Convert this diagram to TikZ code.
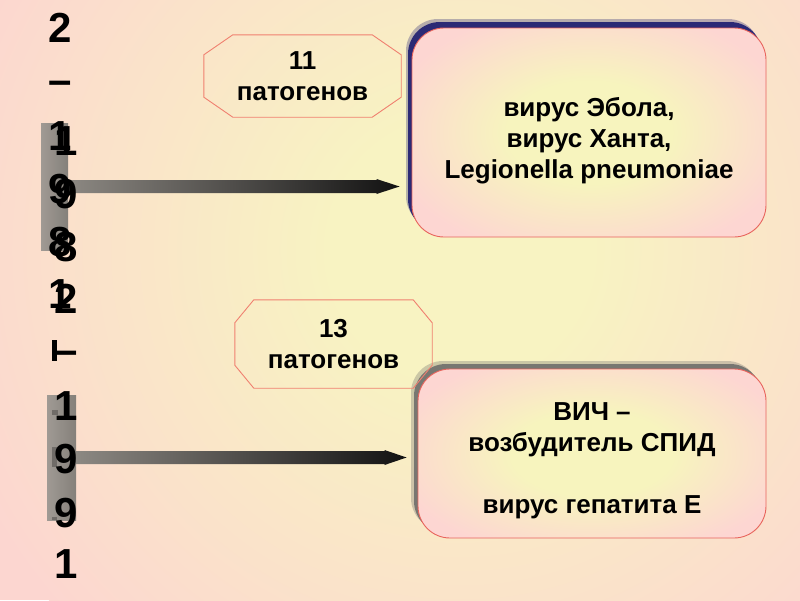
\documentclass[tikz,border=0pt]{standalone}
\usepackage{fontspec}
\setmainfont{Liberation Sans}
\usetikzlibrary{calc,shadows}
\definecolor{bgin}{RGB}{248,243,194}
\definecolor{bgout}{RGB}{252,214,208}
\definecolor{boxin}{RGB}{247,244,190}
\definecolor{boxout}{RGB}{253,214,210}
\definecolor{edgec}{RGB}{232,100,92}
\definecolor{octc}{RGB}{240,128,112}
\definecolor{navyc}{RGB}{28,28,112}
\definecolor{greysh}{RGB}{100,100,100}
\definecolor{barl}{RGB}{160,154,148}
\definecolor{barr}{RGB}{132,128,122}
\definecolor{patch}{RGB}{112,108,104}
\definecolor{arrl}{RGB}{140,136,130}
\definecolor{arrr}{RGB}{18,18,18}
\pgfdeclareradialshading{bgsh}{\pgfpoint{0bp}{0bp}}{color(0bp)=(bgin); color(6bp)=(bgin); color(25bp)=(bgout); color(50bp)=(bgout)}
\pgfdeclareradialshading{boxsh}{\pgfpoint{0bp}{0bp}}{color(0bp)=(boxin); color(10bp)=(boxin); color(25bp)=(boxout); color(50bp)=(boxout)}
\begin{document}
\begin{tikzpicture}[x=1pt,y=-1pt,
  digit/.style={inner sep=0pt, anchor=base, font=\fontsize{42}{42}\selectfont\bfseries},
  lbl/.style={inner sep=0pt, align=center, font=\fontsize{26}{31}\selectfont\bfseries},
  octbox/.style={lbl, minimum width=197pt},
  octline/.style={draw=octc, line width=0.9pt},
  boxbase/.style 2 args={rounded corners=32pt, draw=edgec, line width=0.9pt, fill=boxout, inner sep=0pt,
    path picture={\shade[shading=boxsh] (path picture bounding box.center) ellipse (#1 and #2);}},
  bar/.style={inner sep=0pt, left color=barl, right color=barr},
  arrowsh/.style={left color=arrl, right color=arrr}
]
\useasboundingbox (0,0) rectangle (800,600);
% background
\fill[bgout] (0,0) rectangle (800,600);
\begin{scope}
  \clip (0,0) rectangle (800,600);
  \shade[shading=bgsh] (460,250) circle (540pt);
\end{scope}

% boxes
\node[boxbase={205pt}{128pt}, minimum width=354pt, minimum height=209pt,
  general shadow={fill=navyc, opacity=0.3, shadow xshift=-6pt, shadow yshift=9pt},
  general shadow={fill=navyc, opacity=0.9, shadow xshift=-4pt, shadow yshift=6pt}] (box1) at (589,132.5) {};
\node[boxbase={202pt}{106pt}, minimum width=348pt, minimum height=169pt,
  general shadow={fill=greysh, opacity=0.3, shadow xshift=-7pt, shadow yshift=8pt},
  general shadow={fill=greysh, opacity=0.8, shadow xshift=-4pt, shadow yshift=5pt}] (box2) at (592,453.5) {};
\node[lbl] (t1) at (589,141) {вирус Эбола,\\вирус Ханта,\\Legionella pneumoniae};
\node[lbl] (t2) at (592,461) {ВИЧ –\\возбудитель СПИД\\[31pt]вирус гепатита Е};

% octagons
\node[octbox, minimum height=82pt] (oct1) at (302.5,76) {11\\патогенов};
\draw[octline] ($(oct1.north west)+(29,0)$) -- ($(oct1.north east)+(-29,0)$) -- ($(oct1.north east)+(0,20)$)
  -- ($(oct1.south east)+(0,-20)$) -- ($(oct1.south east)+(-29,0)$) -- ($(oct1.south west)+(29,0)$)
  -- ($(oct1.south west)+(0,-20)$) -- ($(oct1.north west)+(0,20)$) -- cycle;
\node[octbox, minimum height=88pt] (oct2) at (333.5,344) {13\\патогенов};
\draw[octline] ($(oct2.north west)+(19,0)$) -- ($(oct2.north east)+(-19,0)$) -- ($(oct2.north east)+(0,23)$)
  -- ($(oct2.south east)+(0,-23)$) -- ($(oct2.south east)+(-19,0)$) -- ($(oct2.south west)+(19,0)$)
  -- ($(oct2.south west)+(0,-23)$) -- ($(oct2.north west)+(0,23)$) -- cycle;

% bars
\node[bar, minimum width=27pt, minimum height=127pt] (bar1) at (54.5,186.5) {};
\node[bar, minimum width=29pt, minimum height=125pt] (bar2) at (61.5,457.5) {};
\fill[patch] (52,410) rectangle (58,415);
\fill[patch] (52,447) rectangle (57,467);
\fill[patch] (52,517) rectangle (57,520);

% arrows
\shade[arrowsh] let \p1=(bar1.east), \p2=(box1.west) in
  (\x1,\y1+6.5pt) -- (\x2-35pt,\y1+6.5pt) -- (\x2-35pt,\y1+7.5pt) -- (\x2-12pt,\y1)
  -- (\x2-35pt,\y1-7.5pt) -- (\x2-35pt,\y1-6.5pt) -- (\x1,\y1-6.5pt) -- cycle;
\shade[arrowsh] let \p1=(bar2.east), \p2=(box2.west) in
  (\x1,\y1+6.5pt) -- (\x2-33pt,\y1+6.5pt) -- (\x2-33pt,\y1+7.5pt) -- (\x2-11pt,\y1)
  -- (\x2-33pt,\y1-7.5pt) -- (\x2-33pt,\y1-6.5pt) -- (\x1,\y1-6.5pt) -- cycle;

% digits, stack A
\node[digit] (a1) at (60,42) {2};
\node[digit] (a2) at (60,94) {–};
\node[digit] (a3) at (60,150) {1};
\node[digit] (a4) at (60,203) {9};
\node[digit] (a5) at (60,256) {8};
\node[digit] (a6) at (60,308) {1};
% digits, stack B
\node[digit] (b1) at (66,155) {1};
\node[digit] (b2) at (66,208) {9};
\node[digit] (b3) at (66,261) {8};
\node[digit] (b4) at (66,313) {2};
\node[digit] (b5) at (66,364) {–};
\node[digit] (b6) at (66,420) {1};
\node[digit] (b7) at (66,473) {9};
\node[digit] (b8) at (66,527) {9};
\node[digit] (b9) at (66,578) {1};
\fill[black] (52,340) rectangle (57,361);
\end{tikzpicture}
\end{document}
